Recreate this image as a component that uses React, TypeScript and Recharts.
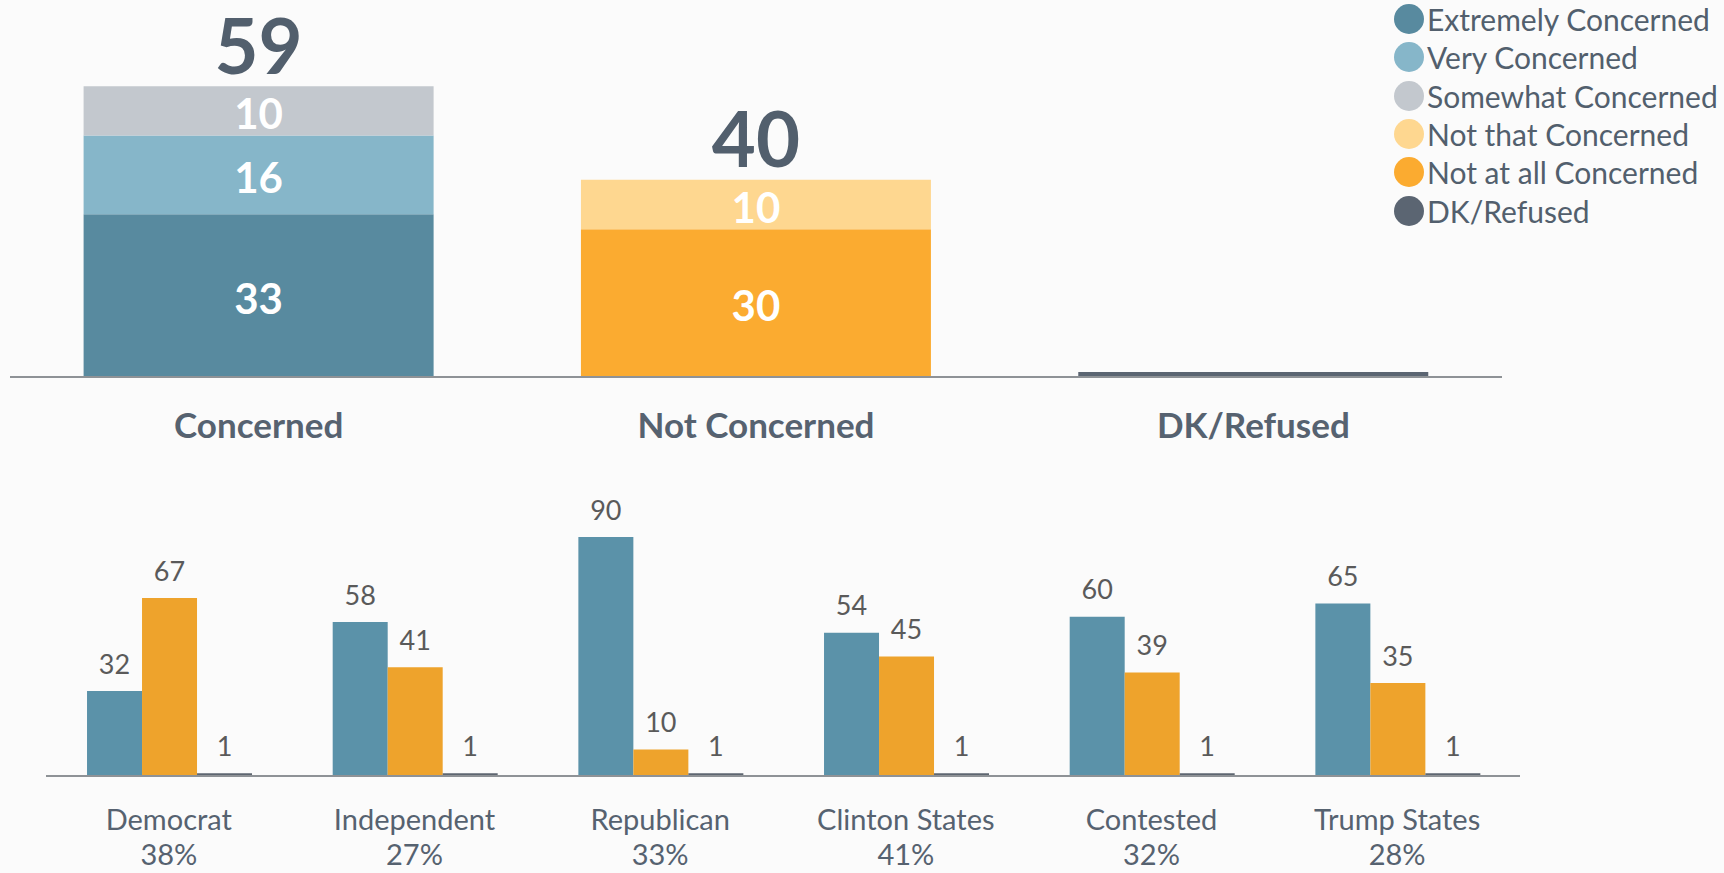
import React from "react";
import { BarChart, Bar, XAxis, YAxis, Legend, LabelList } from "recharts";

// top: overall concern (stacked)
const topCategories = ["Concerned", "Not Concerned", "DK/Refused"];
const extremely = [33, 0, 0];
const very = [16, 0, 0];
const somewhat = [10, 0, 0];
const notAtAll = [0, 30, 0];
const notThat = [0, 10, 0];
const dkTop = [0, 0, 1];
const topTotals = [59, 40, null];
const legendOrder = [
  "Extremely Concerned",
  "Very Concerned",
  "Somewhat Concerned",
  "Not that Concerned",
  "Not at all Concerned",
  "DK/Refused",
];

// bottom: by group
const groups = ["Democrat", "Independent", "Republican", "Clinton States", "Contested", "Trump States"];
const groupShares = ["38%", "27%", "33%", "41%", "32%", "28%"];
const concernedByGroup = [32, 58, 90, 54, 60, 65];
const notConcernedByGroup = [67, 41, 10, 45, 39, 35];
const dkByGroup = [1, 1, 1, 1, 1, 1];

const topData = topCategories.map((name, i) => ({
  name,
  extremely: extremely[i],
  very: very[i],
  somewhat: somewhat[i],
  notAtAll: notAtAll[i],
  notThat: notThat[i],
  dk: dkTop[i],
  total: topTotals[i],
}));

const groupData = groups.map((name, i) => ({
  name,
  concerned: concernedByGroup[i],
  notConcerned: notConcernedByGroup[i],
  dk: dkByGroup[i],
}));

const TEXT = "#566270";

const totalOf = (entry: any) => {
  const p = entry?.payload || {};
  if (p.total != null) return p.total;
  const i = topCategories.indexOf(p.name);
  return i >= 0 ? topTotals[i] : null;
};

const SegmentLabel = (props: any) => {
  const vb = props.viewBox || props;
  if (!props.value) return null;
  return (
    <text
      x={vb.x + vb.width / 2}
      y={vb.y + vb.height / 2 + 2}
      textAnchor="middle"
      dominantBaseline="central"
      fill="#ffffff"
      fontWeight={700}
      fontSize={42}
    >
      {props.value}
    </text>
  );
};

const TotalLabel = (props: any) => {
  const vb = props.viewBox || props;
  if (props.value == null || props.value === "") return null;
  return (
    <text
      x={vb.x + vb.width / 2}
      y={vb.y - 42}
      textAnchor="middle"
      dominantBaseline="central"
      fill="#525f6d"
      fontWeight={700}
      fontSize={76}
    >
      {props.value}
    </text>
  );
};

const ValueLabel = (props: any) => {
  const vb = props.viewBox || props;
  return (
    <text
      x={vb.x + vb.width / 2}
      y={vb.y - 28}
      textAnchor="middle"
      dominantBaseline="central"
      fill="#5a5a5a"
      fontSize={27}
    >
      {props.value}
    </text>
  );
};

const TopTick = ({ x, y, payload }: any) => (
  <text x={x} y={y + 47} textAnchor="middle" dominantBaseline="central" fill={TEXT} fontWeight={700} fontSize={35}>
    {payload.value}
  </text>
);

const GroupTick = ({ x, y, payload, index }: any) => (
  <g>
    <text x={x} y={y + 42} textAnchor="middle" dominantBaseline="central" fill={TEXT} fontSize={29}>
      {payload.value}
    </text>
    <text x={x} y={y + 77} textAnchor="middle" dominantBaseline="central" fill={TEXT} fontSize={29}>
      {groupShares[index ?? groups.indexOf(payload.value)]}
    </text>
  </g>
);

const LegendList = ({ payload }: any) => {
  const items = [...(payload || [])].sort(
    (a: any, b: any) => legendOrder.indexOf(a.value) - legendOrder.indexOf(b.value)
  );
  return (
    <div>
      {items.map((p: any) => (
        <div key={p.value} style={{ display: "flex", alignItems: "center", height: 38.3 }}>
          <span
            style={{
              width: 30,
              height: 30,
              borderRadius: "50%",
              background: p.color,
              display: "inline-block",
            }}
          />
          <span style={{ marginLeft: 3, fontSize: 30, color: "#525f6d", whiteSpace: "nowrap" }}>{p.value}</span>
        </div>
      ))}
    </div>
  );
};

export default function App() {
  return (
    <div
      style={{
        position: "absolute",
        left: 0,
        top: 0,
        width: 1724,
        height: 873,
        background: "#fbfbfb",
        fontFamily: "Lato, 'Open Sans', sans-serif",
        overflow: "hidden",
      }}
    >
      <div style={{ position: "absolute", left: 0, top: 0 }}>
        <BarChart
          width={1724}
          height={460}
          data={topData}
          margin={{ top: 32, right: 222, left: 10, bottom: 0 }}
          barCategoryGap="14.8%"
        >
          <XAxis
            dataKey="name"
            height={83}
            tickSize={0}
            tickMargin={0}
            tickLine={false}
            axisLine={{ stroke: "#8e9296", strokeWidth: 2 }}
            tick={<TopTick />}
            interval={0}
          />
          <YAxis hide domain={[0, 70]} />
          <Legend
            layout="vertical"
            align="center"
            verticalAlign="middle"
            content={<LegendList />}
            wrapperStyle={{ left: 1394, top: 0, width: 330 }}
          />
          <Bar dataKey="extremely" name="Extremely Concerned" stackId="a" fill="#588a9f" isAnimationActive={false}>
            <LabelList dataKey="extremely" content={<SegmentLabel />} />
          </Bar>
          <Bar dataKey="very" name="Very Concerned" stackId="a" fill="#86b6c9" isAnimationActive={false}>
            <LabelList dataKey="very" content={<SegmentLabel />} />
          </Bar>
          <Bar dataKey="somewhat" name="Somewhat Concerned" stackId="a" fill="#c3c8ce" isAnimationActive={false}>
            <LabelList dataKey="somewhat" content={<SegmentLabel />} />
            <LabelList valueAccessor={totalOf} content={<TotalLabel />} />
          </Bar>
          <Bar dataKey="notAtAll" name="Not at all Concerned" stackId="a" fill="#fbab30" isAnimationActive={false}>
            <LabelList dataKey="notAtAll" content={<SegmentLabel />} />
          </Bar>
          <Bar dataKey="notThat" name="Not that Concerned" stackId="a" fill="#fed790" isAnimationActive={false}>
            <LabelList dataKey="notThat" content={<SegmentLabel />} />
            <LabelList valueAccessor={totalOf} content={<TotalLabel />} />
          </Bar>
          <Bar dataKey="dk" name="DK/Refused" stackId="a" fill="#5b6572" isAnimationActive={false} />
        </BarChart>
      </div>

      <div style={{ position: "absolute", left: 0, top: 460 }}>
        <BarChart
          width={1724}
          height={413}
          data={groupData}
          margin={{ top: 50.5, right: 204, left: 46, bottom: 0 }}
          barCategoryGap="16.7%"
          barGap={0}
        >
          <XAxis
            dataKey="name"
            height={97}
            tickSize={0}
            tickMargin={0}
            tickLine={false}
            axisLine={{ stroke: "#8e9296", strokeWidth: 2 }}
            tick={<GroupTick />}
            interval={0}
          />
          <YAxis hide domain={[0, 100]} />
          <Bar dataKey="concerned" fill="#5b92a9" isAnimationActive={false}>
            <LabelList dataKey="concerned" content={<ValueLabel />} />
          </Bar>
          <Bar dataKey="notConcerned" fill="#eea32c" isAnimationActive={false}>
            <LabelList dataKey="notConcerned" content={<ValueLabel />} />
          </Bar>
          <Bar dataKey="dk" fill="#5e6670" isAnimationActive={false}>
            <LabelList dataKey="dk" content={<ValueLabel />} />
          </Bar>
        </BarChart>
      </div>
    </div>
  );
}
